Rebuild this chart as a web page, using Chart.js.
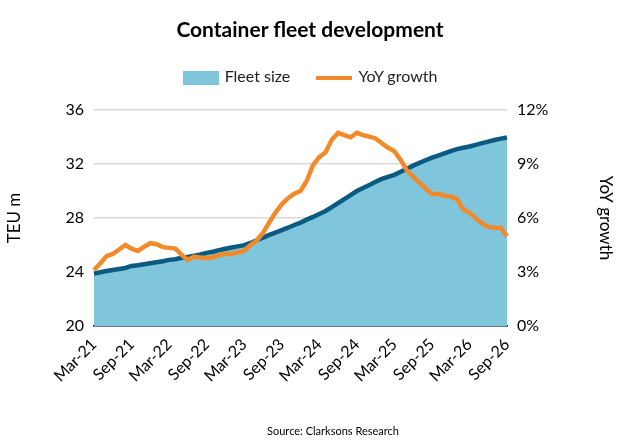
<!DOCTYPE html>
<html>
<head>
<meta charset="utf-8">
<script src="https://cdn.jsdelivr.net/npm/chart.js@4"></script>
<style>
  body { margin: 0; background: #fff; font-family: Lato, 'Open Sans', sans-serif; }
  #wrap { position: relative; width: 620px; height: 442px; }
  #title { position: absolute; top: 16px; left: 0; width: 620px; text-align: center; font-weight: bold; font-size: 21px; color: #000; }
  #legend { position: absolute; top: 66px; left: 0; width: 620px; text-align: center; font-size: 16px; color: #222; }
  .sw { display: inline-block; vertical-align: middle; margin-right: 6px; }
  #source { position: absolute; top: 424px; left: 0; width: 666px; text-align: center; font-size: 11px; color: #000; }
</style>
</head>
<body>
<div id="wrap">
  <div id="title">Container fleet development</div>
  <div id="legend">
    <span class="sw" style="width:36px;height:14px;background:#7fc6dd"></span>Fleet size
    <span class="sw" style="width:36px;height:4px;background:#f28a2a;margin-left:22px"></span>YoY growth
  </div>
  <canvas id="c" width="620" height="442"></canvas>
  <div id="source">Source: Clarksons Research</div>
</div>
<script>
// monthly, Mar-21 .. Sep-26
const monthNames = ['Jan','Feb','Mar','Apr','May','Jun','Jul','Aug','Sep','Oct','Nov','Dec'];
const labels = [];
for (let i = 0; i < 67; i++) {
  const m = (2 + i) % 12;
  const y = 21 + Math.floor((2 + i) / 12);
  labels.push(monthNames[m] + '-' + y);
}

const fleetSize = [
  23.88, 23.98, 24.07, 24.15, 24.22, 24.30, 24.45, 24.50, 24.58, 24.65, 24.72, 24.80,
  24.90, 24.95, 25.05, 25.12, 25.20, 25.30, 25.42, 25.50, 25.62, 25.72, 25.82, 25.90,
  25.99, 26.15, 26.35, 26.55, 26.75, 26.92, 27.10, 27.28, 27.48, 27.66, 27.88, 28.08,
  28.30, 28.52, 28.80, 29.10, 29.40, 29.70, 30.00, 30.22, 30.45, 30.68, 30.90, 31.05,
  31.20, 31.42, 31.65, 31.88, 32.08, 32.28, 32.47, 32.62, 32.78, 32.95, 33.10, 33.20,
  33.30, 33.42, 33.55, 33.66, 33.78, 33.88, 33.96
];

const yoyGrowth = [
  3.11, 3.47, 3.88, 4.00, 4.25, 4.50, 4.30, 4.17, 4.40, 4.60, 4.54, 4.38,
  4.34, 4.30, 3.96, 3.67, 3.86, 3.80, 3.76, 3.82, 3.94, 4.00, 4.00, 4.10,
  4.17, 4.50, 4.75, 5.17, 5.75, 6.30, 6.76, 7.10, 7.35, 7.50, 8.07, 8.94,
  9.38, 9.65, 10.35, 10.73, 10.60, 10.48, 10.73, 10.60, 10.52, 10.42, 10.15, 9.90,
  9.71, 9.23, 8.65, 8.30, 7.97, 7.64, 7.34, 7.34, 7.24, 7.18, 7.05, 6.49,
  6.30, 5.98, 5.71, 5.50, 5.46, 5.46, 4.98
];

const leftTicks = [20, 24, 28, 32, 36];
const rightTicks = [0, 3, 6, 9, 12];

const tickFont = { family: "Lato, 'Open Sans', sans-serif", size: 16 };

new Chart(document.getElementById('c').getContext('2d'), {
  type: 'line',
  data: {
    labels: labels,
    datasets: [
      {
        label: 'YoY growth',
        data: yoyGrowth,
        yAxisID: 'yr',
        borderColor: '#f28a2a',
        borderWidth: 4.5,
        pointRadius: 0,
        fill: false,
        tension: 0
      },
      {
        label: 'Fleet size',
        data: fleetSize,
        yAxisID: 'y',
        borderColor: '#0b5a82',
        backgroundColor: '#7fc6dd',
        borderWidth: 4.5,
        pointRadius: 0,
        fill: 'origin',
        tension: 0
      }
    ]
  },
  options: {
    responsive: false,
    animation: false,
    layout: { padding: { top: 110, left: 0, right: 0, bottom: 0 } },
    plugins: { legend: { display: false }, tooltip: { enabled: false } },
    scales: {
      x: {
        offset: false,
        grid: { display: false, drawTicks: true, tickLength: 6, color: '#000' },
        border: { color: '#000', width: 1.5 },
        ticks: {
          autoSkip: false, maxRotation: 45, minRotation: 45,
          font: tickFont, color: '#000',
          callback: (v, i) => (i % 6 === 0 ? labels[i] : '')
        },
        afterFit: (s) => { s.height = 116; }
      },
      y: {
        position: 'left', min: 20, max: 36,
        afterBuildTicks: (s) => { s.ticks = leftTicks.map(v => ({ value: v })); },
        ticks: { font: tickFont, color: '#000', padding: 10 },
        grid: { color: '#d9d9d9', lineWidth: 1.5, drawTicks: false },
        border: { display: false },
        title: { display: true, text: 'TEU m', font: { family: tickFont.family, size: 17 }, color: '#000' },
        afterFit: (s) => { s.width = 94; }
      },
      yr: {
        position: 'right', min: 0, max: 12,
        afterBuildTicks: (s) => { s.ticks = rightTicks.map(v => ({ value: v })); },
        ticks: { font: tickFont, color: '#000', padding: 10, callback: (v) => v + '%' },
        grid: { display: false, drawTicks: false },
        border: { display: false },
        title: { display: true, text: 'YoY growth', font: { family: tickFont.family, size: 17 }, color: '#000' },
        afterFit: (s) => { s.width = 113; }
      }
    }
  }
});
</script>
</body>
</html>
